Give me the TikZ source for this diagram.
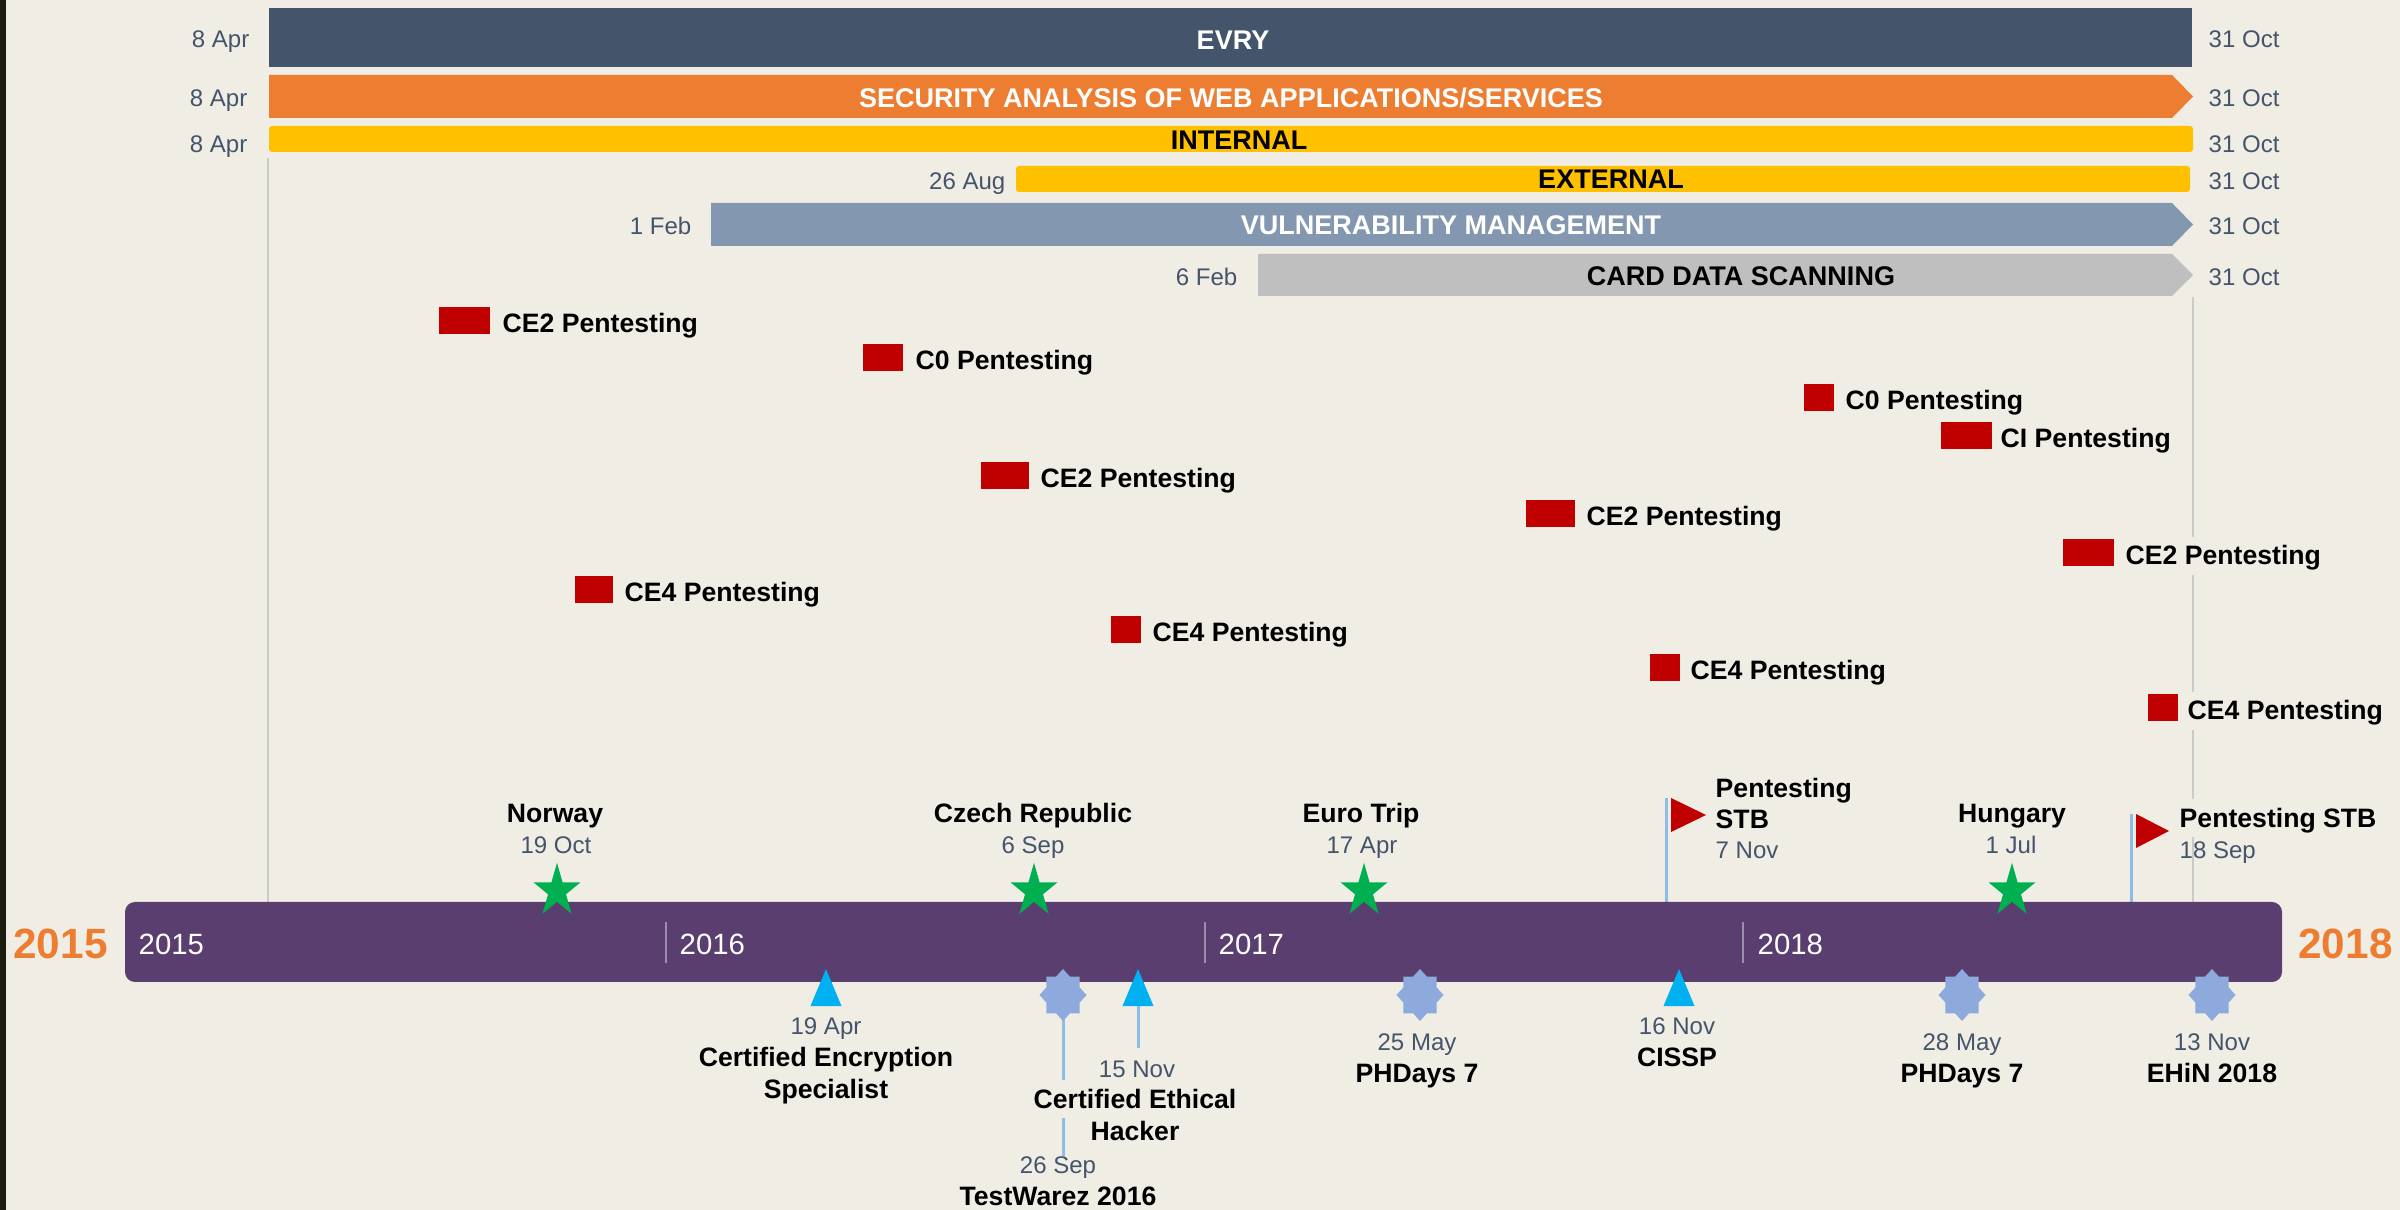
\documentclass[tikz,border=0pt]{standalone}
\usepackage{fontspec}
\setmainfont{Liberation Sans}
\pgfdeclarelayer{bgl}
\pgfdeclarelayer{lines}
\pgfsetlayers{bgl,lines,main}
\definecolor{bgc}{HTML}{F0EDE5}
\definecolor{stripc}{HTML}{1C1C10}
\definecolor{evryc}{HTML}{44546A}
\definecolor{orangec}{HTML}{ED7D31}
\definecolor{yellowc}{HTML}{FFC000}
\definecolor{vmc}{HTML}{8497B0}
\definecolor{cdsc}{HTML}{BFBFBF}
\definecolor{datec}{HTML}{44546A}
\definecolor{purplec}{HTML}{5A3E6F}
\definecolor{tickc}{HTML}{9C8FAE}
\definecolor{redc}{HTML}{C00000}
\definecolor{greenc}{HTML}{00B050}
\definecolor{tric}{HTML}{00B0F0}
\definecolor{sealc}{HTML}{8EAADC}
\definecolor{stemc}{HTML}{8DBDE6}
\definecolor{grayl}{HTML}{CACACA}
\tikzset{
  datel/.style={font=\fontsize{6.83}{8}\selectfont, text=datec, inner sep=0pt},
  titl/.style={font=\fontsize{7.57}{9}\selectfont\bfseries, text=black, inner sep=0pt},
  titlbg/.style={titl, fill=bgc, inner xsep=0.02cm, inner ysep=0.02cm, text height=0.75em, text depth=0.22em},
  bart/.style={font=\fontsize{7.68}{9}\selectfont\bfseries, inner sep=0pt},
  yearin/.style={font=\fontsize{8.34}{10}\selectfont, text=white, inner sep=0pt},
  bigyear/.style={font=\fontsize{12.04}{14}\selectfont\bfseries, text=orangec, inner sep=0pt},
  stem/.style={draw=stemc, line width=0.03cm},
  gline/.style={draw=grayl, line width=0.025cm},
  tickline/.style={draw=tickc, line width=0.02cm},
}
\newcommand\pentest[7]{%
  \fill[redc] (#2,#4) rectangle (#3,#5);
  \node[titlbg,anchor=base west] (#1) at ({#6-2},{(#4+#5)/2+12.5}) {#7};}
\newcommand\starfive[3]{%
  \coordinate (#3) at (#1,#2);
  \fill[greenc] plot[variable=\k, samples at={0,...,9}]
    ({#1+0.877*ifthenelse(mod(\k,2)==0,28.2,10.77)*cos(90+36*\k)},
     {#2-ifthenelse(mod(\k,2)==0,28.2,10.77)*sin(90+36*\k)}) -- cycle;}
\newcommand\sealstar[3]{%
  \coordinate (#3) at (#1,#2);
  \fill[sealc] plot[variable=\k, samples at={0,...,15}]
    ({#1+23.5*ifthenelse(mod(\k,2)==0,1,0.765)*cos(90+22.5*\k)},
     {#2-26*ifthenelse(mod(\k,2)==0,1,0.765)*sin(90+22.5*\k)}) -- cycle;}
\newcommand\bluetri[2]{%
  \coordinate (#2) at (#1,995);
  \fill[tric] (#1,969) -- ({#1+15.5},1006) -- ({#1-15.5},1006) -- cycle;}
\begin{document}
\begin{tikzpicture}[x=0.01cm,y=-0.01cm]
\useasboundingbox (0,0) rectangle (2400,1210);
\begin{pgfonlayer}{bgl}
  \fill[bgc] (0,0) rectangle (2400,1210);
  \fill[stripc] (0,0) rectangle (6,1210);
\end{pgfonlayer}

% ---- bars ----
\fill[evryc] (269,8) rectangle (2192,67);
\node[bart,text=white,anchor=base] (evry) at (1233,49.3) {EVRY};
\fill[orangec] (269,75) -- (2172,75) -- (2193,96.5) -- (2172,118) -- (269,118) -- cycle;
\node[bart,text=white,anchor=base] (sec) at (1231,107.3) {SECURITY ANALYSIS OF WEB APPLICATIONS/SERVICES};
\fill[yellowc, rounded corners=0.03cm] (269,126) rectangle (2193,152);
\node[bart,anchor=base] (int) at (1239,150) {INTERNAL};
\fill[yellowc, rounded corners=0.03cm] (1016,166) rectangle (2190,192);
\node[bart,anchor=base] (ext) at (1611,189) {EXTERNAL};
\fill[vmc] (711,203) -- (2172,203) -- (2193,224.5) -- (2172,246) -- (711,246) -- cycle;
\node[bart,text=white,anchor=base] (vm) at (1451,235) {VULNERABILITY MANAGEMENT};
\fill[cdsc] (1258,254) -- (2172,254) -- (2193,275) -- (2172,296) -- (1258,296) -- cycle;
\node[bart,anchor=base] (cds) at (1741,285.5) {CARD DATA SCANNING};

% ---- bar dates ----
\node[datel,anchor=base east] (ls1) at (250,47.3) {8 Apr};
\node[datel,anchor=base east] (ls2) at (248,106.7) {8 Apr};
\node[datel,anchor=base east] (ls3) at (248,152.3) {8 Apr};
\node[datel,anchor=base east] (ls4) at (1006,189.3) {26 Aug};
\node[datel,anchor=base east] (ls5) at (692,234.3) {1 Feb};
\node[datel,anchor=base east] (ls6) at (1238,285.7) {6 Feb};
\node[datel,anchor=base west] (le1) at (2208,47.7) {31 Oct};
\node[datel,anchor=base west] (le2) at (2208,106.7) {31 Oct};
\node[datel,anchor=base west] (le3) at (2208,152.3) {31 Oct};
\node[datel,anchor=base west] (le4) at (2208,189.3) {31 Oct};
\node[datel,anchor=base west] (le5) at (2208,235) {31 Oct};
\node[datel,anchor=base west] (le6) at (2208,285.7) {31 Oct};

\coordinate (g1t) at (268,158);
\coordinate (g1b) at (268,902);
\coordinate (g2t) at (2193,297);
\coordinate (g2b) at (2193,902);

% ---- pentests ----
\pentest{p1}{439}{490}{307}{334}{502}{CE2 Pentesting}
\pentest{p2}{863}{903}{344}{371}{915}{C0 Pentesting}
\pentest{p3}{981}{1029}{462}{489}{1040}{CE2 Pentesting}
\pentest{p4}{575}{613}{576}{603}{624}{CE4 Pentesting}
\pentest{p5}{1111}{1141}{616}{643}{1152}{CE4 Pentesting}
\pentest{p6}{1526}{1575}{500}{527}{1586}{CE2 Pentesting}
\pentest{p7}{1650}{1680}{654}{681}{1690}{CE4 Pentesting}
\pentest{p8}{1804}{1834}{384}{411}{1845}{C0 Pentesting}
\pentest{p9}{1941}{1992}{422}{449}{2000}{CI Pentesting}
\pentest{p10}{2063}{2114}{539}{566}{2125}{CE2 Pentesting}
\pentest{p11}{2148}{2178}{694}{721}{2187}{CE4 Pentesting}

% ---- timeline bar ----
\fill[purplec, rounded corners=0.1cm] (125,902) rectangle (2282,982);
\draw[tickline] (666,922) -- (666,963);
\draw[tickline] (1205,922) -- (1205,963);
\draw[tickline] (1743,922) -- (1743,963);
\node[yearin,anchor=base west] (y15) at (138,955) {2015};
\node[yearin,anchor=base west] (y16) at (679,955) {2016};
\node[yearin,anchor=base west] (y17) at (1218,955) {2017};
\node[yearin,anchor=base west] (y18) at (1757,955) {2018};
\node[bigyear,anchor=base] (by15) at (60.5,958.3) {2015};
\node[bigyear,anchor=base] (by18) at (2345.5,958.3) {2018};

% ---- milestones above ----
\starfive{557}{891}{snor}
\node[titl,anchor=base] (tnor) at (555,823) {Norway};
\node[datel,anchor=base] (dnor) at (556,853.3) {19 Oct};
\starfive{1034}{891}{scz}
\node[titl,anchor=base] (tcz) at (1033,823) {Czech Republic};
\node[datel,anchor=base] (dcz) at (1033,853.3) {6 Sep};
\starfive{1364}{891}{seu}
\node[titl,anchor=base] (teu) at (1361,823) {Euro Trip};
\node[datel,anchor=base] (deu) at (1362,853.3) {17 Apr};
\starfive{2012}{891}{shu}
\node[titl,anchor=base] (thu) at (2012,823) {Hungary};
\node[datel,anchor=base] (dhu) at (2011,853.3) {1 Jul};

\coordinate (f1b) at (1666,902);
\coordinate (f1t) at (1666,798);
\fill[redc] (1671,798) -- (1706,815) -- (1671,832) -- cycle;
\node[titl,anchor=base west] (tf1a) at (1715,797.3) {Pentesting};
\node[titl,anchor=base west] (tf1b) at (1715,829) {STB};
\node[datel,anchor=base west] (df1) at (1715,858.3) {7 Nov};
\coordinate (f2b) at (2131,902);
\coordinate (f2t) at (2131,814);
\fill[redc] (2136,814) -- (2169,831) -- (2136,848) -- cycle;
\node[titlbg,anchor=base west] (tf2) at (2177,827.7) {Pentesting STB};
\node[datel,anchor=base west] (df2) at (2179,858.3) {18 Sep};

% ---- milestones below ----
\bluetri{826}{tcep}
\node[datel,anchor=base] (dcep) at (826,1034.3) {19 Apr};
\node[titl,anchor=base] (tcep1) at (826,1066.5) {Certified Encryption};
\node[titl,anchor=base] (tcep2) at (826,1098) {Specialist};

\sealstar{1063}{995}{stw}
\node[datel,anchor=base] (dtw) at (1058,1173.3) {26 Sep};
\node[titl,anchor=base] (ttw) at (1058,1205.7) {TestWarez 2016};

\bluetri{1138}{tceh}
\node[titlbg,anchor=base] (tceh2) at (1135,1140) {Hacker};
\node[titlbg,anchor=base] (tceh1) at (1135,1108.3) {Certified Ethical};
\node[datel,anchor=base] (dceh) at (1137,1077.3) {15 Nov};

\sealstar{1420}{995}{sph1}
\node[datel,anchor=base] (dph1) at (1417,1050.7) {25 May};
\node[titl,anchor=base] (tph1) at (1417,1082.7) {PHDays 7};

\bluetri{1679}{tcis}
\node[datel,anchor=base] (dcis) at (1677,1034.3) {16 Nov};
\node[titl,anchor=base] (tcis) at (1677,1066.7) {CISSP};

\sealstar{1962}{995}{sph2}
\node[datel,anchor=base] (dph2) at (1962,1050.7) {28 May};
\node[titl,anchor=base] (tph2) at (1962,1082.7) {PHDays 7};

\sealstar{2212}{995}{sehin}
\node[datel,anchor=base] (dehin) at (2212,1050.7) {13 Nov};
\node[titl,anchor=base] (tehin) at (2212,1082.7) {EHiN 2018};

% ---- connectors ----
\begin{pgfonlayer}{lines}
  \draw[gline] (g1t) -- (g1b);
  \draw[gline] (g2t) -- (g2b);
  \draw[stem] (f1b) -- (f1t);
  \draw[stem] (f2b) -- (f2t);
  \draw[stem] (stw) -- (stw |- dtw.north);
  \draw[stem, shorten >=0.12cm] (tceh) -- (tceh |- dceh.north);
\end{pgfonlayer}
\end{tikzpicture}
\end{document}
